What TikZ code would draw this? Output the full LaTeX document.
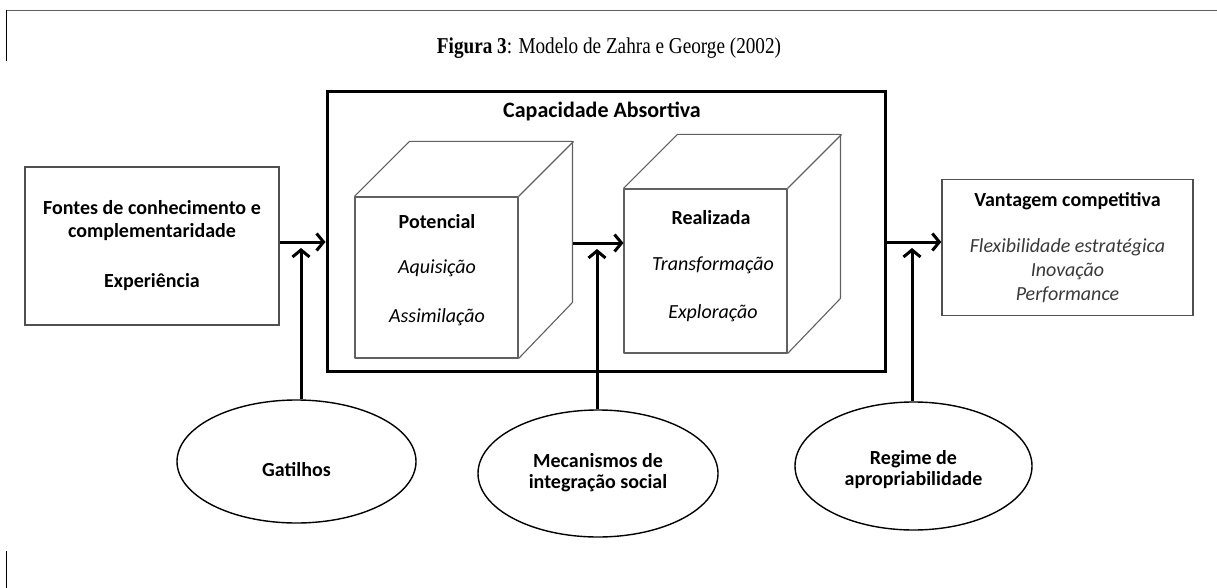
\documentclass[tikz,border=0pt]{standalone}
\usepackage{fontspec}
\setmainfont{Liberation Serif}
\newfontfamily\calib{Carlito}
\usetikzlibrary{arrows.meta,shapes.geometric}
\definecolor{edgegray}{HTML}{505050}
\definecolor{cubegray}{HTML}{606060}
\definecolor{textgray}{HTML}{3A3A3A}
\newcommand{\advitem}[1]{\textcolor{textgray}{\textit{#1}}}
\begin{document}
\begin{tikzpicture}[x=1pt,y=-1pt,
  box/.style={draw=edgegray, line width=1.4pt, rectangle, inner sep=0pt, align=center},
  lbl/.style={font=\calib\bfseries\fontsize{20}{23}\selectfont, align=center, inner sep=0pt},
  itl/.style={font=\calib\itshape\fontsize{20}{23}\selectfont, align=center, inner sep=0pt},
  oval/.style={draw, ellipse, line width=1.4pt, inner sep=0pt},
  ovaltext/.style={font=\calib\bfseries\fontsize{20}{21.5}\selectfont, align=center, inner sep=0pt},
  cubeline/.style={draw=cubegray, line width=1.1pt, line join=round},
  flow/.style={line width=3pt, -{Straight Barb[length=7pt,width=17pt]}},
  feed/.style={line width=3pt, -{Straight Barb[length=7pt,width=17pt]}}]
\useasboundingbox (0,0) rectangle (1217,588);
\fill[white] (0,0) rectangle (1217,588);

% page frame fragments
\draw[gray!75!black, line width=1.6pt] (6,10.5) -- (1217,10.5);
\draw[line width=1.4pt] (6.5,10) -- (6.5,61);
\draw[line width=1.4pt] (6.5,551) -- (6.5,588);

% caption
\node[font=\fontsize{19.2}{22}\selectfont, inner sep=0pt] (title) at (609,48.5)
  {\scalebox{1}[1.18]{\textbf{Figura 3}: Modelo de Zahra e George (2002)}};

% knowledge sources
\node[box, lbl, minimum width=254pt, minimum height=158pt] (src) at (152,246)
  {Fontes de conhecimento e\\complementaridade\\[27pt]Experiência};

% absorptive capacity frame
\node[draw, line width=3pt, minimum width=558pt, minimum height=279pt, inner sep=0pt]
  (acap) at (606,231.5) {};
\node[lbl, font=\calib\bfseries\fontsize{22}{24}\selectfont] (acapt) at (602,111) {Capacidade Absortiva};

% potential capacity cube
\node[cubeline, minimum width=163pt, minimum height=161pt, inner sep=0pt] (pot) at (436.5,277.5) {};
\draw[cubeline] (pot.north west) -- ++(55,-55) -- ++(163,0) -- ++(0,161) -- (pot.south east);
\draw[cubeline] (pot.north east) -- ++(55,-55);
\node[lbl] (potA) at (437,222) {Potencial};
\node[itl] (potB) at (437,268) {Aquisição};
\node[itl] (potC) at (437,317) {Assimilação};

% realized capacity cube
\node[cubeline, minimum width=163pt, minimum height=164pt, inner sep=0pt] (rea) at (705.5,271) {};
\draw[cubeline] (rea.north west) -- ++(54,-54) -- ++(163,0) -- ++(0,164) -- (rea.south east);
\draw[cubeline] (rea.north east) -- ++(54,-54);
\node[lbl] (reaA) at (711,218) {Realizada};
\node[itl] (reaB) at (713,265) {Transformação};
\node[itl] (reaC) at (713,313) {Exploração};

% competitive advantage
\node[box, font=\calib\fontsize{20}{24}\selectfont, minimum width=251pt, minimum height=136pt] (adv) at (1067.5,247.5)
  {\textbf{Vantagem competitiva}\\[22pt]
   \advitem{Flexibilidade estratégica}\\\advitem{Inovação}\\\advitem{Performance}};

% contingent factors
\node[oval, minimum width=239pt, minimum height=123pt] (gat) at (296.5,461.5) {};
\node[oval, minimum width=240pt, minimum height=127pt] (mec) at (598,473.5) {};
\node[oval, minimum width=237pt, minimum height=128pt] (reg) at (913.5,466) {};
\node[ovaltext] (gatt) at (296.5,470) {Gatilhos};
\node[ovaltext] (mect) at (598,472.5) {Mecanismos de\\integração social};
\node[ovaltext] (regt) at (913.5,469.5) {Regime de\\apropriabilidade};

% flow of knowledge
\coordinate (potside) at (573,243);
\draw[flow] (src.east |- 0,242) -- (acap.west |- 0,242);
\draw[flow] (potside) -- (rea.west |- potside);
\draw[flow] (acap.east |- 0,242) -- (adv.west |- 0,242);

% moderating influences
\coordinate (j1) at (301,248);
\coordinate (j2) at (597,249);
\coordinate (j3) at (912,248);
\draw[feed] (gat.north -| j1) -- (j1);
\draw[feed] (mec.north -| j2) -- (j2);
\draw[feed] (reg.north -| j3) -- (j3);
\end{tikzpicture}
\end{document}
